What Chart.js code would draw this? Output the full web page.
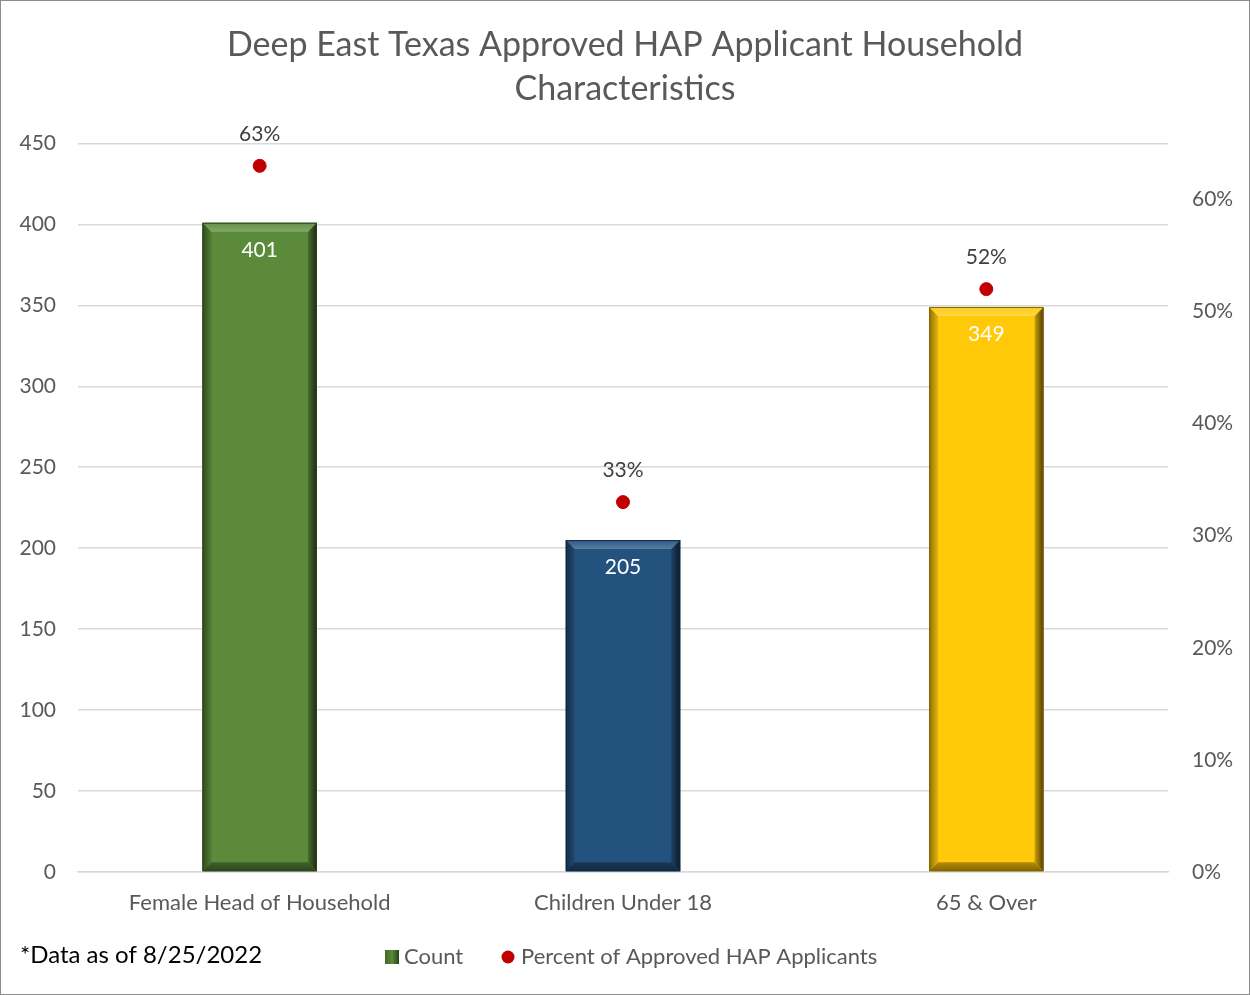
<!DOCTYPE html>
<html>
<head>
<meta charset="utf-8">
<script src="https://cdn.jsdelivr.net/npm/chart.js@4"></script>
<style>
  html, body { margin: 0; padding: 0; background: #fff; }
  #wrap { position: relative; width: 1248px; height: 993px; border: 1px solid #8c8c8c; }
</style>
</head>
<body>
<div id="wrap"><canvas id="c"></canvas></div>
<script>
const categories = ["Female Head of Household", "Children Under 18", "65 & Over"];
const counts = [401, 205, 349];
const percents = [0.63, 0.33, 0.52];
const barColors = ["#5b8a3a", "#23527f", "#ffc90a"];
const countTicks = [0, 50, 100, 150, 200, 250, 300, 350, 400, 450];
const pctTicks = [0, 0.1, 0.2, 0.3, 0.4, 0.5, 0.6];
const legendNames = ["Count", "Percent of Approved HAP Applicants"];

const FONT = "Lato, 'Open Sans', sans-serif";
const grey = "#595959";

function shade(hex, f) {
  let n = parseInt(hex.slice(1), 16);
  let r = n >> 16, g = (n >> 8) & 255, b = n & 255;
  const m = v => Math.max(0, Math.min(255, Math.round(f < 0 ? v * (1 + f) : v + (255 - v) * f)));
  return `rgb(${m(r)},${m(g)},${m(b)})`;
}

// bevel look on the bars, data labels, legend and footnote
const extras = {
  id: "extras",
  afterDatasetsDraw(chart) {
    const ctx = chart.ctx;
    const bars = chart.getDatasetMeta(0).data;
    bars.forEach((el, i) => {
      const p = el.getProps(["x", "y", "base", "width"], true);
      const x0 = p.x - p.width / 2, x1 = p.x + p.width / 2, y0 = p.y, y1 = p.base;
      const b = 9, c = barColors[i];
      ctx.save();
      const poly = (pts, fill) => {
        ctx.beginPath();
        ctx.moveTo(pts[0][0], pts[0][1]);
        pts.slice(1).forEach(q => ctx.lineTo(q[0], q[1]));
        ctx.closePath();
        ctx.fillStyle = fill;
        ctx.fill();
      };
      let gl = ctx.createLinearGradient(x0, 0, x0 + b, 0);
      gl.addColorStop(0, shade(c, -0.45));
      gl.addColorStop(1, shade(c, -0.1));
      poly([[x0, y0], [x0 + b, y0 + b], [x0 + b, y1 - b], [x0, y1]], gl);
      let gr = ctx.createLinearGradient(x1 - b, 0, x1, 0);
      gr.addColorStop(0, shade(c, -0.2));
      gr.addColorStop(1, shade(c, -0.7));
      poly([[x1, y0], [x1 - b, y0 + b], [x1 - b, y1 - b], [x1, y1]], gr);
      let gt = ctx.createLinearGradient(0, y0, 0, y0 + b);
      gt.addColorStop(0, shade(c, 0.05));
      gt.addColorStop(1, shade(c, 0.25));
      poly([[x0, y0], [x1, y0], [x1 - b, y0 + b], [x0 + b, y0 + b]], gt);
      let gb = ctx.createLinearGradient(0, y1 - b, 0, y1);
      gb.addColorStop(0, shade(c, -0.3));
      gb.addColorStop(1, shade(c, -0.5));
      poly([[x0, y1], [x1, y1], [x1 - b, y1 - b], [x0 + b, y1 - b]], gb);
      ctx.strokeStyle = shade(c, -0.5);
      ctx.lineWidth = 1;
      ctx.strokeRect(x0 + 0.5, y0 + 0.5, p.width - 1, y1 - y0 - 1);

      ctx.fillStyle = "#ffffff";
      ctx.font = "21px " + FONT;
      ctx.textAlign = "center";
      ctx.textBaseline = "middle";
      ctx.fillText(String(counts[i]), p.x, y0 + 27);
      ctx.restore();
    });
    const dots = chart.getDatasetMeta(1).data;
    dots.forEach((el, i) => {
      ctx.save();
      ctx.fillStyle = "#404040";
      ctx.font = "21px " + FONT;
      ctx.textAlign = "center";
      ctx.textBaseline = "middle";
      ctx.fillText(Math.round(percents[i] * 100) + "%", el.x, el.y - 32);
      ctx.restore();
    });

    ctx.save();
    ctx.textBaseline = "middle";
    // footnote
    ctx.fillStyle = "#000";
    ctx.font = "24px " + FONT;
    ctx.fillText("*Data as of 8/25/2022", 19, 954);
    // legend
    const ly = 956;
    let g = ctx.createLinearGradient(384, 0, 398, 0);
    g.addColorStop(0, "#3f6a25");
    g.addColorStop(0.5, "#5b8a3a");
    g.addColorStop(1, "#26401a");
    ctx.fillStyle = g;
    ctx.fillRect(384, ly - 7, 14, 14);
    ctx.fillStyle = grey;
    ctx.font = "22px " + FONT;
    ctx.fillText(legendNames[0], 403, ly);
    ctx.beginPath();
    ctx.arc(507, ly, 6.5, 0, Math.PI * 2);
    ctx.fillStyle = "#c00000";
    ctx.fill();
    ctx.fillStyle = grey;
    ctx.fillText(legendNames[1], 520, ly);
    ctx.restore();
  }
};

new Chart(document.getElementById("c"), {
  data: {
    labels: categories,
    datasets: [
      {
        type: "bar",
        label: legendNames[0],
        data: counts,
        backgroundColor: barColors,
        borderWidth: 0,
        barPercentage: 0.63,
        categoryPercentage: 0.5,
        yAxisID: "y",
        order: 2
      },
      {
        type: "line",
        label: legendNames[1],
        data: percents,
        showLine: false,
        pointRadius: 6.5,
        pointBackgroundColor: "#c00000",
        pointBorderColor: "#c00000",
        yAxisID: "y1",
        order: 1
      }
    ]
  },
  options: {
    responsive: true,
    maintainAspectRatio: false,
    animation: false,
    layout: { padding: { left: 0, right: 0, top: 0, bottom: 78 } },
    plugins: {
      title: {
        display: true,
        text: ["Deep East Texas Approved HAP Applicant Household", "Characteristics"],
        color: grey,
        font: { family: FONT, size: 34, weight: "normal", lineHeight: 1.3 },
        padding: { top: 22, bottom: 32 }
      },
      legend: { display: false },
      tooltip: { enabled: false }
    },
    scales: {
      x: {
        grid: { display: false, drawTicks: false },
        border: { color: "#d9d9d9", width: 1.5 },
        ticks: { color: grey, font: { family: FONT, size: 22 }, padding: 18 },
        afterFit(s) { s.height = 44; }
      },
      y: {
        position: "left",
        min: 0,
        max: 450,
        afterBuildTicks(s) { s.ticks = countTicks.map(v => ({ value: v })); },
        afterFit(s) { s.width = 77; },
        grid: { color: "#d9d9d9", lineWidth: 1.5, drawTicks: false },
        border: { display: false },
        ticks: { color: grey, font: { family: FONT, size: 21 }, padding: 22 }
      },
      y1: {
        position: "right",
        min: 0,
        max: 0.65,
        afterBuildTicks(s) { s.ticks = pctTicks.map(v => ({ value: v })); },
        afterFit(s) { s.width = 81; },
        grid: { display: false, drawTicks: false },
        border: { display: false },
        ticks: {
          color: grey,
          font: { family: FONT, size: 21 },
          padding: 24,
          callback: v => Math.round(v * 100) + "%"
        }
      }
    }
  },
  plugins: [extras]
});
</script>
</body>
</html>
